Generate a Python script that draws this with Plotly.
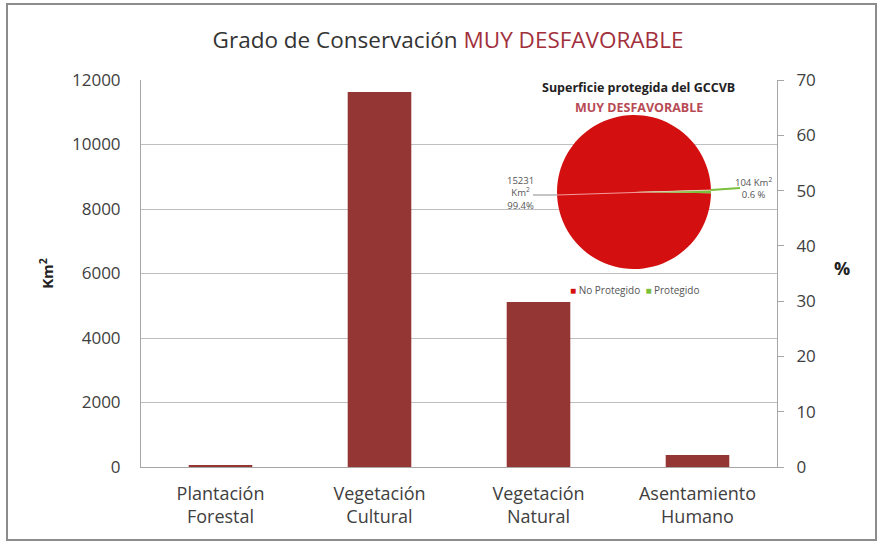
import plotly.graph_objects as go

# bar chart data (Km2 per land-use class)
categorias = ["Plantación<br>Forestal", "Vegetación<br>Cultural", "Vegetación<br>Natural", "Asentamiento<br>Humano"]
superficie_km2 = [40, 11630, 5120, 370]

# inset pie data
pie_labels = ["No Protegido", "Protegido"]
pie_values = [15231, 104]
pie_pct = [99.4, 0.6]
pie_colors = ["#d40f10", "#7cbf3c"]

font_fam = "'Open Sans', Lato, sans-serif"
bar_color = "#943634"

# plot-area geometry in pixels, used to convert to paper coords
L, R, T, B = 141, 777, 80, 467
W, H = 880, 544


def px(x):
    return (x - L) / (R - L)


def py(y):
    return (B - y) / (B - T)


fig = go.Figure()

fig.add_trace(go.Bar(
    x=categorias, y=superficie_km2,
    marker=dict(color=bar_color, line=dict(width=0)),
    showlegend=False, hoverinfo="x+y"))

# empty trace so the secondary % axis gets drawn
fig.add_trace(go.Scatter(x=categorias, y=[None] * len(categorias), yaxis="y2",
                         showlegend=False, hoverinfo="skip"))

fig.add_trace(go.Pie(
    labels=pie_labels, values=pie_values, sort=False,
    direction="clockwise", rotation=91,
    marker=dict(colors=pie_colors, line=dict(width=0)),
    textinfo="none", hoverinfo="label+value+percent",
    domain=dict(x=[px(557), px(711)], y=[py(269), py(115)]),
    showlegend=False))

fig.update_layout(
    width=W, height=H,
    margin=dict(l=L, r=W - R, t=T, b=H - B),
    paper_bgcolor="white", plot_bgcolor="white",
    font=dict(family=font_fam, color="#404040"),
    bargap=0.6,
    title=dict(
        text="Grado de Conservación <span style='color:#a2303c'>MUY DESFAVORABLE</span>",
        x=448 / W, xanchor="center", y=1 - 40 / H, yanchor="middle",
        font=dict(size=22.5, color="#333333")),
)

fig.update_xaxes(showline=True, linecolor="#a6a6a6", linewidth=1,
                 tickfont=dict(size=18, color="#404040"), ticks="", ticklabelstandoff=10)
fig.update_yaxes(range=[0, 12000], dtick=2000, tickformat="d", showgrid=True, gridcolor="#bfbfbf",
                 showline=True, linecolor="#a6a6a6", zeroline=False,
                 tickfont=dict(size=17, color="#404040"), ticklabelstandoff=16,
                 title=dict(text="<b>Km<sup>2</sup></b>", font=dict(size=15, color="#222"),
                            standoff=14))
fig.update_layout(yaxis2=dict(
    overlaying="y", side="right", range=[0, 70], dtick=10, showgrid=False,
    showline=True, linecolor="#a6a6a6", ticks="outside", ticklen=6, tickcolor="#a6a6a6",
    tickfont=dict(size=17, color="#404040"), ticklabelstandoff=9, zeroline=False))

legend_txt = (f"<span style='color:{pie_colors[0]}'>■</span> {pie_labels[0]}  "
              f"<span style='color:{pie_colors[1]}'>■</span> {pie_labels[1]}")

anns = [
    dict(x=px(842), y=py(268), text="<b>%</b>", font=dict(size=18, color="#222")),
    dict(x=px(638), y=py(88), text="<b>Superficie protegida del GCCVB</b>",
         font=dict(size=12.5, color="#222")),
    dict(x=px(639), y=py(107), text="<b>MUY DESFAVORABLE</b>",
         font=dict(size=12.5, color="#b84a55")),
    dict(x=px(520), y=py(193),
         text=f"{pie_values[0]}<br>Km<sup>2</sup><br>{pie_pct[0]}%",
         font=dict(size=9.5, color="#555")),
    dict(x=px(753), y=py(188),
         text=f"{pie_values[1]} Km<sup>2</sup><br>{pie_pct[1]} %",
         font=dict(size=9.5, color="#555")),
    dict(x=px(634), y=py(290), text=legend_txt, font=dict(size=10, color="#555")),
]
for a in anns:
    fig.add_annotation(xref="paper", yref="paper", showarrow=False,
                       xanchor="center", yanchor="middle", **a)

# leader lines of the inset pie
fig.add_shape(type="line", xref="paper", yref="paper",
              x0=px(533), y0=py(195), x1=px(557), y1=py(195),
              line=dict(color="#8a8a8a", width=1))
fig.add_shape(type="line", xref="paper", yref="paper",
              x0=px(557), y0=py(195), x1=px(711), y1=py(190),
              line=dict(color="rgba(255,215,215,0.7)", width=1.2))
fig.add_shape(type="line", xref="paper", yref="paper",
              x0=px(711), y0=py(190), x1=px(740), y1=py(188),
              line=dict(color="#7cbf3c", width=2))

# outer chart border
fig.add_shape(type="rect", xref="paper", yref="paper",
              x0=px(7), y0=py(540), x1=px(876), y1=py(4),
              line=dict(color="#8c8c8c", width=2), layer="below")

# the page body has a default 8px margin; drop it so the chart sits at 0,0
fig.write_html("out.html", config={"displayModeBar": False},
               post_script="document.body.style.margin='0';")
